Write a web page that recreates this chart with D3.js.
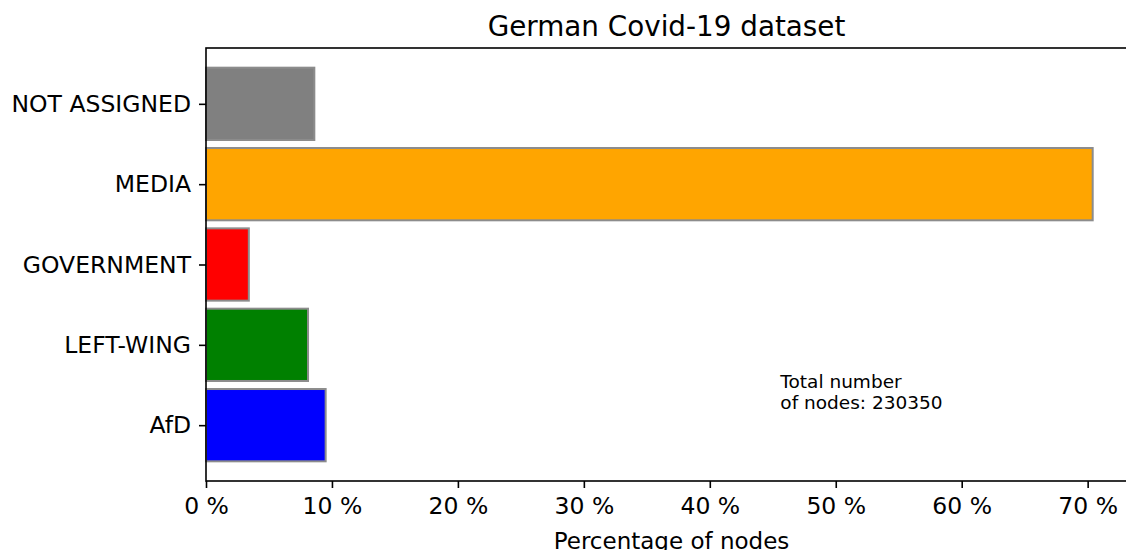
<!DOCTYPE html>
<html><head><meta charset="utf-8">
<script src="https://cdn.jsdelivr.net/npm/d3@7"></script>
<style>body{margin:0;background:#fff}svg{display:block}text{font-family:"DejaVu Sans",sans-serif;fill:#000}</style>
</head><body>
<script>
const categories = ["AfD", "LEFT-WING", "GOVERNMENT", "MEDIA", "NOT ASSIGNED"];
const values = [9.5, 8.1, 3.4, 70.4, 8.6];
const colors = ["#0000ff", "#008000", "#ff0000", "#ffa500", "#808080"];
const xTicks = [0, 10, 20, 30, 40, 50, 60, 70];
const title = "German Covid-19 dataset";
const xLabel = "Percentage of nodes";
const note = ["Total number", "of nodes: 230350"];

const W = 1126, H = 550;
const L = 206, T = 48, B = 481;
const xMax = d3.max(values) * 1.05;
const pxPerUnit = 12.595;
const R = L + xMax * pxPerUnit;

const svg = d3.select("body").append("svg").attr("width", W).attr("height", H);
const x = d3.scaleLinear().domain([0, xMax]).range([L, R]);
const n = categories.length;
const barH = 0.9;
const pad = (n - 1 + barH) * 0.05;
const y = d3.scaleLinear().domain([-barH/2 - pad, n - 1 + barH/2 + pad]).range([B, T]);

svg.append("g").selectAll("rect").data(values).join("rect")
  .attr("x", x(0))
  .attr("y", (d, i) => y(i + barH/2))
  .attr("width", d => x(d) - x(0))
  .attr("height", (d, i) => y(i - barH/2) - y(i + barH/2))
  .attr("fill", (d, i) => colors[i])
  .attr("stroke", "#8c8c8c").attr("stroke-width", 2);

// spines
svg.append("rect").attr("x", L).attr("y", T).attr("width", R - L).attr("height", B - T)
  .attr("fill", "none").attr("stroke", "#000").attr("stroke-width", 1.6);

const xAxis = svg.append("g").attr("transform", `translate(0,${B})`)
  .call(d3.axisBottom(x).tickValues(xTicks).tickFormat(d => d + " %").tickSize(7).tickPadding(9));
xAxis.select(".domain").remove();
xAxis.selectAll("line").attr("stroke-width", 1.6);
xAxis.selectAll("text").style("font-size", "23.5px").style("font-family", "DejaVu Sans");

const yAxis = svg.append("g").attr("transform", `translate(${L},0)`)
  .call(d3.axisLeft(y).tickValues(d3.range(n)).tickFormat(i => categories[i]).tickSize(7).tickPadding(8));
yAxis.select(".domain").remove();
yAxis.selectAll("line").attr("stroke-width", 1.6);
yAxis.selectAll("text").style("font-size", "23.5px").style("font-family", "DejaVu Sans");

svg.append("text").attr("x", (L + R) / 2 - 5).attr("y", 36).attr("text-anchor", "middle")
  .style("font-size", "27.8px").text(title);
svg.append("text").attr("x", (L + R) / 2).attr("y", 549).attr("text-anchor", "middle")
  .style("font-size", "23px").text(xLabel);
svg.append("text").attr("x", x(45.6)).attr("y", 388).style("font-size", "18.5px").text(note[0]);
svg.append("text").attr("x", x(45.6)).attr("y", 409).style("font-size", "18.5px").text(note[1]);
</script>
</body></html>
